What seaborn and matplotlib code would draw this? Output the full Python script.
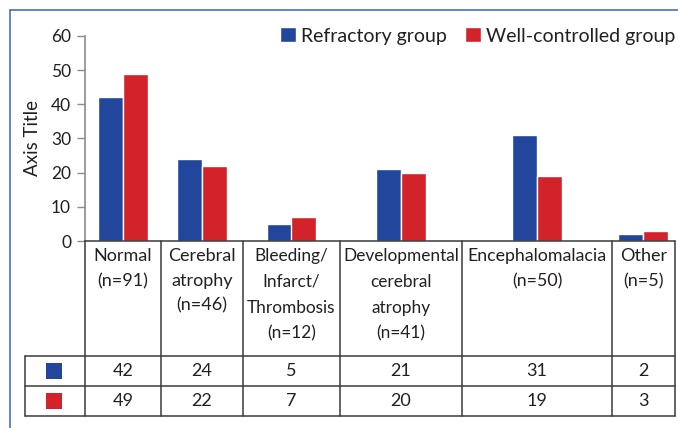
import numpy as np
import pandas as pd
import matplotlib
matplotlib.use('Agg')
import matplotlib.pyplot as plt
import seaborn as sns
from matplotlib.lines import Line2D
from matplotlib.patches import Rectangle
from matplotlib.transforms import blended_transform_factory


categories = ['Normal\n(n=91)', 'Cerebral\natrophy\n(n=46)',
              'Bleeding/\nInfarct/\nThrombosis\n(n=12)',
              'Developmental\ncerebral\natrophy\n(n=41)',
              'Encephalomalacia\n(n=50)', 'Other\n(n=5)']
groups = ['Refractory group', 'Well-controlled group']
refractory = [42, 24, 5, 21, 31, 2]
well_controlled = [49, 22, 7, 20, 19, 3]
y_ticks = [0, 10, 20, 30, 40, 50, 60]

colors = ['#21469b', '#d2232a']
text_color = '#231f20'
line_color = '#3a3a3a'

# table columns are not equal, bars sit in the middle of each column (px)
col_widths = np.array([76, 82, 97, 122, 150, 63])
# long words are squeezed in the original, so a bit smaller there
head_sizes = [13, 13, 12.4, 12.4, 12.8, 13]
edges = np.concatenate([[0], np.cumsum(col_widths)])
centers = (edges[:-1] + edges[1:]) / 2

df = pd.DataFrame({
    'pos': np.tile(centers, 2),
    'group': np.repeat(groups, len(categories)),
    'count': refractory + well_controlled,
})

sns.set_style('white')
plt.rcParams['font.family'] = ['Lato', 'DejaVu Sans']
plt.rcParams['font.size'] = 12.5

W, H = 678, 428
fig = plt.figure(figsize=(W / 100, H / 100), dpi=100)
ax = fig.add_axes([85 / W, 1 - 241 / H, 590 / W, 205 / H])

sns.barplot(data=df, x='pos', y='count', hue='group', palette=colors,
            native_scale=True, orient='x', errorbar=None, saturation=1,
            width=50 / np.diff(centers).min(), ax=ax)

ax.set_xlim(0, edges[-1])
ax.set_ylim(0, 60)
ax.set_xticks([])
ax.set_xlabel('')
ax.set_yticks(y_ticks)
ax.set_ylabel('Axis Title', color=text_color, fontsize=13.5, labelpad=7)
ax.tick_params(axis='y', left=True, length=6, width=1, color='#8c8c8c',
               pad=4, labelcolor=text_color)
for s in ['top', 'right', 'bottom']:
    ax.spines[s].set_visible(False)
ax.spines['left'].set_color('#8c8c8c')
ax.spines['left'].set_linewidth(1.2)

handles, labels = ax.get_legend_handles_labels()
ax.legend(handles, labels, loc='center right', ncol=2, frameon=False,
          bbox_to_anchor=(675 / W, 1 - 36 / H), bbox_transform=fig.transFigure,
          borderpad=0, borderaxespad=0, handlelength=0.82, handleheight=0.82,
          handletextpad=0.26, columnspacing=0.93, labelcolor=text_color,
          fontsize=14)

# data table under the chart, y given in px from the top of the picture
tr = blended_transform_factory(ax.transData, fig.transFigure)


def fy(px):
    return 1 - px / H


def hline(x0, x1, y):
    fig.add_artist(Line2D([x0, x1], [fy(y), fy(y)], transform=tr,
                          color=line_color, lw=1.1))


def vline(x, y0, y1):
    fig.add_artist(Line2D([x, x], [fy(y0), fy(y1)], transform=tr,
                          color=line_color, lw=1.1))


hline(0, edges[-1], 241)
for y in [356, 386, 416]:
    hline(-60, edges[-1], y)
vline(-60, 356, 416)
for e in edges:
    vline(e, 241, 416)

for c, lab, fs in zip(centers, categories, head_sizes):
    fig.text(c, fy(248), lab, transform=tr, ha='center', va='top',
             multialignment='center', linespacing=1.68 * 13 / fs,
             color=text_color, fontsize=fs)

for row, (vals, col) in enumerate(zip([refractory, well_controlled], colors)):
    yc = 371 + 30 * row
    fig.add_artist(Rectangle((-39, fy(yc + 8)), 16, 16 / H, transform=tr,
                             color=col, lw=0))
    for c, v in zip(centers, vals):
        fig.text(c, fy(yc), str(v), transform=tr, ha='center', va='center',
                 color=text_color, fontsize=13)

# blue frame round the figure
fig.add_artist(Line2D([10 / W, 1], [fy(10), fy(10)], color='#4a6cc0', lw=1.2))
fig.add_artist(Line2D([10 / W, 10 / W], [fy(10), 0], color='#4a6cc0', lw=1.2))

fig.savefig('out.png', dpi=100)
